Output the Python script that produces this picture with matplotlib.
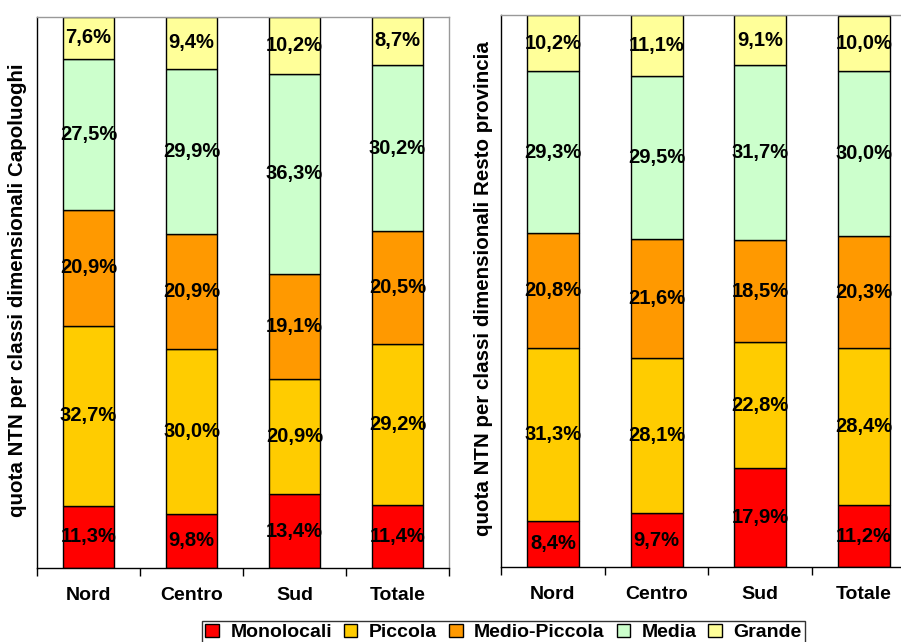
import matplotlib
matplotlib.use("Agg")
import matplotlib.pyplot as plt
from matplotlib.patches import Patch
import numpy as np

plt.rcParams['font.family'] = ['Liberation Sans', 'DejaVu Sans']
plt.rcParams['font.weight'] = 'bold'

areas = ["Nord", "Centro", "Sud", "Totale"]
classes = ["Monolocali", "Piccola", "Medio-Piccola", "Media", "Grande"]
colors = ["#FF0000", "#FFCC00", "#FF9900", "#CCFFCC", "#FFFF99"]

# quota NTN (%) per classe, una lista per classe, valori per area
capoluoghi = {
    "Monolocali":    [11.3, 9.8, 13.4, 11.4],
    "Piccola":       [32.7, 30.0, 20.9, 29.2],
    "Medio-Piccola": [20.9, 20.9, 19.1, 20.5],
    "Media":         [27.5, 29.9, 36.3, 30.2],
    "Grande":        [7.6, 9.4, 10.2, 8.7],
}
resto_provincia = {
    "Monolocali":    [8.4, 9.7, 17.9, 11.2],
    "Piccola":       [31.3, 28.1, 22.8, 28.4],
    "Medio-Piccola": [20.8, 21.6, 18.5, 20.3],
    "Media":         [29.3, 29.5, 31.7, 30.0],
    "Grande":        [10.2, 11.1, 9.1, 10.0],
}


def draw_panel(ax, data, ylabel, label_x, label_y):
    x = np.arange(len(areas))
    bottom = np.zeros(len(areas))
    for cls, col in zip(classes, colors):
        vals = np.array(data[cls])
        ax.bar(x, vals, 0.5, bottom=bottom, color=col, edgecolor="black", linewidth=1.0)
        for xi, b, v in zip(x, bottom, vals):
            ax.text(xi, b + v / 2, f"{v:.1f}%".replace(".", ","), ha="center", va="center",
                    fontsize=14.5, fontweight="bold")
        bottom += vals
    ax.set_xlim(-0.5, len(areas) - 0.5)
    ax.set_ylim(0, 100)
    ax.set_xticks(x)
    ax.set_xticklabels(areas, fontsize=14, fontweight="bold")
    ax.set_xticks(np.arange(-0.5, len(areas)), minor=True)
    ax.tick_params(axis="x", which="major", length=0, pad=14)
    ax.tick_params(axis="x", which="minor", length=6, direction="out", width=1)
    ax.set_yticks([])
    for side in ("top", "right"):
        ax.spines[side].set_color("#999999")
        ax.spines[side].set_linewidth(1)
    for side in ("left", "bottom"):
        ax.spines[side].set_color("black")
        ax.spines[side].set_linewidth(1)
    ax.set_ylabel(ylabel, fontsize=14.8, fontweight="bold")
    ax.yaxis.set_label_coords(label_x, label_y)


fig = plt.figure(figsize=(9.01, 6.42), dpi=100)
ax1 = fig.add_axes([0.0411, 0.1153, 0.4572, 0.8583])
ax2 = fig.add_axes([0.556, 0.1168, 0.4606, 0.8598])

draw_panel(ax1, capoluoghi, "quota NTN per classi dimensionali Capoluoghi", -0.024, 0.505)
draw_panel(ax2, resto_provincia, "quota NTN per classi dimensionali Resto provincia", -0.019, 0.504)

handles = [Patch(facecolor=c, edgecolor="black", linewidth=1) for c in colors]
leg = fig.legend(handles, classes, loc="upper center", bbox_to_anchor=(0.559, 0.033),
                 ncol=5, frameon=True, fancybox=False, edgecolor="black",
                 prop={"size": 14, "weight": "bold"}, handlelength=0.7, handleheight=0.7,
                 handletextpad=0.6, columnspacing=0.6, borderpad=0.15, borderaxespad=0)
leg.get_frame().set_linewidth(1)

fig.savefig("out.png", dpi=100)
